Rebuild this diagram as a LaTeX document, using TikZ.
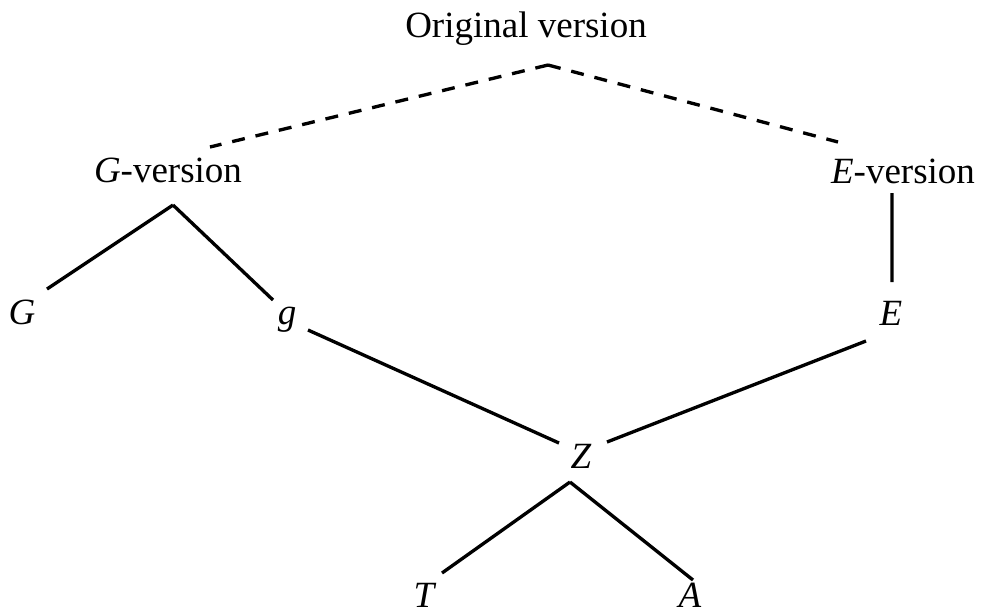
\documentclass[tikz,border=0pt]{standalone}
\usepackage{fontspec}
\setmainfont{Liberation Serif}

\tikzset{
  witness/.style={inner sep=0pt, anchor=base, font=\fontsize{11.1}{13}\selectfont},
  branch/.style={line width=1pt},
  lostbranch/.style={line width=1pt, dash pattern=on 3.9pt off 3.3pt}
}

\begin{document}
\begin{tikzpicture}[x=0.3pt, y=-0.3pt]
  \useasboundingbox (0,0) rectangle (985,611);

  \node[witness](Orig) at (526, 37) {Original version};
    \node[witness](GVer) at (168, 182) {\textit{G}-version};
      \node[witness](G) at (22, 324) {\textit{G}};
      \node[witness](g) at (287, 324) {\textit{g}};
    \node[witness](EVer) at (903, 183) {\textit{E}-version};
      \node[witness](E) at (891, 325) {\textit{E}};
  \node[witness](Z) at (581, 468) {\textit{Z}};
    \node[witness](T) at (425, 607) {\textit{T}};
    \node[witness](A) at (690, 607) {\textit{A}};

  % lost intermediate versions
  \draw[lostbranch] ([shift={(22,28)}]Orig.base) -- ([shift={(42,-35)}]GVer.base)
                    ([shift={(22,28)}]Orig.base) -- ([shift={(-65,-41)}]EVer.base);

  \draw[branch] ([shift={(5,23)}]GVer.base) -- ([shift={(25,-35)}]G.base)
                ([shift={(5,23)}]GVer.base) -- ([shift={(-14,-24)}]g.base)
                ([shift={(-11,10)}]EVer.base) -- ([shift={(1,-43)}]E.base)
                ([shift={(21,6)}]g.base) -- ([shift={(-22,-25)}]Z.base)
                ([shift={(-25,16)}]E.base) -- ([shift={(26,-26)}]Z.base)
                ([shift={(-11,14)}]Z.base) -- ([shift={(17,-34)}]T.base)
                ([shift={(-11,14)}]Z.base) -- ([shift={(3,-27)}]A.base);
\end{tikzpicture}
\end{document}
